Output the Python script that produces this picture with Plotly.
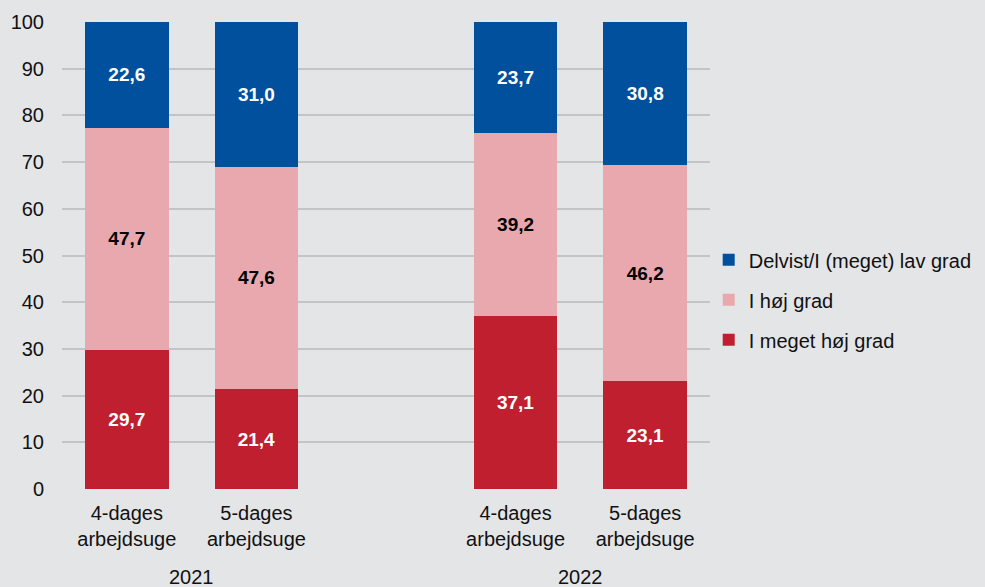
import plotly.graph_objects as go

# Survey shares (%) by week type and year
bar_pos = [0, 1, 3, 4]
week_labels = ["4-dages<br>arbejdsuge", "5-dages<br>arbejdsuge",
               "4-dages<br>arbejdsuge", "5-dages<br>arbejdsuge"]
years = ["2021", "2022"]
year_pos = [0.5, 3.5]

meget_hoej = [29.7, 21.4, 37.1, 23.1]
hoej = [47.7, 47.6, 39.2, 46.2]
delvist_lav = [22.6, 31.0, 23.7, 30.8]

# (name, values, fill, label colour, legend rank)
series = [
    ("I meget høj grad", meget_hoej, "#c01f30", "white", 3),
    ("I høj grad", hoej, "#e8a8ad", "black", 2),
    ("Delvist/I (meget) lav grad", delvist_lav, "#00509d", "white", 1),
]

def fmt(v):
    return f"{v:.1f}".replace(".", ",")

fig = go.Figure()
for name, vals, color, tcolor, rank in series:
    fig.add_trace(go.Bar(
        x=bar_pos, y=vals, name=name, legendgroup=name, legendrank=rank,
        marker=dict(color=color, line=dict(width=0)),
        width=0.645,
        text=[fmt(v) for v in vals],
        textposition="inside", insidetextanchor="middle",
        textfont=dict(family="Liberation Sans", size=19, color=tcolor, weight="bold"),
        textangle=0,
        hoverinfo="skip",
    ))

for yr, xp in zip(years, year_pos):
    fig.add_annotation(x=xp, y=-0.188, xref="x", yref="paper", text=yr,
                       showarrow=False, yanchor="middle",
                       font=dict(family="Liberation Sans", size=20, color="#111111"))

bg = "#e4e5e7"
fig.update_layout(
    barmode="stack",
    width=985, height=587,
    paper_bgcolor=bg, plot_bgcolor=bg,
    margin=dict(l=62, r=275, t=22, b=98, autoexpand=False),
    font=dict(family="Liberation Sans", size=20, color="#111111"),
    uniformtext=dict(minsize=10, mode="show"),
    xaxis=dict(range=[-0.5, 4.5], tickmode="array", tickvals=bar_pos,
               ticktext=week_labels, showgrid=False, zeroline=False,
               showline=False, ticks="", tickfont=dict(size=20),
               ticklabelstandoff=10),
    yaxis=dict(range=[0, 100], dtick=10, showgrid=True, gridcolor="#c3c4c6",
               gridwidth=1.5, zeroline=False, showline=False, ticks="",
               tickfont=dict(size=20), ticklabelstandoff=17),
    legend=dict(x=0.998, y=0.405, xanchor="left", yanchor="middle",
                traceorder="grouped", tracegroupgap=11,
                bgcolor="rgba(0,0,0,0)", font=dict(size=20), itemwidth=30),
)

fig.write_html("out.html")
